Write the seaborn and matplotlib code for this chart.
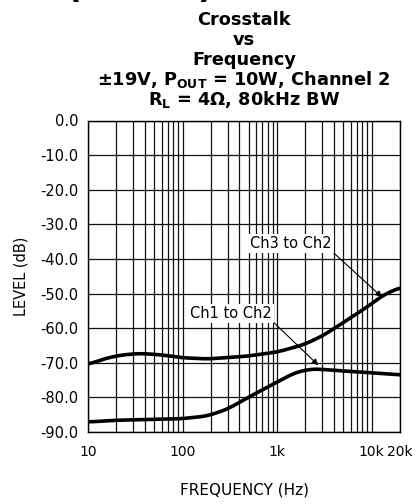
import numpy as np
import matplotlib
matplotlib.use("Agg")
import matplotlib.pyplot as plt
import seaborn as sns
import pandas as pd
from matplotlib.ticker import FixedLocator, LogLocator, NullFormatter

# values
freq_ch3 = [10, 15, 22, 35, 60, 94, 180, 300, 475, 1000, 1900, 3000, 4640, 7000, 10000, 12400, 20000]
level_ch3 = [-70.5, -68.8, -67.8, -67.3, -67.7, -68.5, -68.9, -68.5, -68.1, -66.9, -64.8, -62.3, -59.0, -55.8, -53.0, -50.9, -48.2]

freq_ch1 = [10, 20, 42, 94, 180, 293, 475, 700, 1000, 1500, 2250, 3000, 4640, 10000, 20000]
level_ch1 = [-87.1, -86.6, -86.4, -86.2, -85.4, -83.5, -80.3, -77.8, -75.6, -73.0, -71.8, -71.9, -72.3, -72.9, -73.5]

y_ticks = [0, -10, -20, -30, -40, -50, -60, -70, -80, -90]
x_ticks = [10, 100, 1000, 10000, 20000]
x_labels = ["10", "100", "1k", "10k", "20k"]

df = pd.concat([
    pd.DataFrame({"freq": freq_ch3, "level": level_ch3, "path": "Ch3 to Ch2"}),
    pd.DataFrame({"freq": freq_ch1, "level": level_ch1, "path": "Ch1 to Ch2"}),
])

sns.set_style("white")
plt.rcParams["font.family"] = ["DejaVu Sans"]
plt.rcParams["text.color"] = "black"
plt.rcParams["axes.labelcolor"] = "black"
plt.rcParams["xtick.color"] = "black"
plt.rcParams["ytick.color"] = "black"

fig = plt.figure(figsize=(4.2, 5.04), dpi=100)
ax = fig.add_axes([88 / 420, 72 / 504, 312 / 420, 311.5 / 504])

# smooth the read points in log-frequency so the curves look like the scan
for name, g in df.groupby("path", sort=False):
    lf = np.log10(g["freq"].values)
    xs = np.linspace(lf.min(), lf.max(), 300)
    ys = np.interp(xs, lf, g["level"].values)
    k = np.ones(15) / 15
    ys_s = np.convolve(np.pad(ys, 7, mode="edge"), k, mode="valid")
    sns.lineplot(x=10 ** xs, y=ys_s, ax=ax, color="black", lw=2.6, legend=False, zorder=3)

ax.set_xscale("log")
ax.set_xlim(10, 20000)
ax.set_ylim(-90, 0)
ax.xaxis.set_major_locator(FixedLocator(x_ticks))
ax.set_xticklabels(x_labels)
ax.xaxis.set_minor_locator(LogLocator(base=10, subs=np.arange(2, 10)))
ax.xaxis.set_minor_formatter(NullFormatter())
ax.set_yticks(y_ticks)
ax.set_yticklabels([f"{v:.1f}" for v in y_ticks])
ax.grid(True, which="both", axis="x", color="#111111", lw=0.9)
ax.grid(True, which="major", axis="y", color="#111111", lw=0.9)
ax.tick_params(axis="y", which="both", length=0, labelsize=10.5, pad=7)
ax.tick_params(axis="x", which="both", length=0, labelsize=10, pad=9)
for s in ax.spines.values():
    s.set_color("black")
    s.set_linewidth(1.0)

ax.set_xlabel("FREQUENCY (Hz)", fontsize=11, va="center")
ax.xaxis.set_label_coords(0.5, (432 - 490) / 311.5)
ax.set_ylabel("LEVEL (dB)", fontsize=10.5, va="center")
ax.yaxis.set_label_coords((21 - 88) / 312, 0.5)

box = dict(boxstyle="square,pad=0.15", fc="white", ec="none")
ax.annotate("Ch3 to Ch2", xy=(12870, -51.0), xytext=(1405, -35.6), fontsize=10.5,
            ha="center", va="center", bbox=box, zorder=4,
            arrowprops=dict(arrowstyle="-|>", color="black", lw=0.8, shrinkA=0, shrinkB=0,
                            mutation_scale=9, relpos=(1, 0)))
ax.annotate("Ch1 to Ch2", xy=(2730, -70.7), xytext=(327, -55.7), fontsize=10.5,
            ha="center", va="center", bbox=box, zorder=4,
            arrowprops=dict(arrowstyle="-|>", color="black", lw=0.8, shrinkA=0, shrinkB=0,
                            mutation_scale=9, relpos=(1, 0)))

cx = (88 + 400) / 2 / 420
title_lines = ["Crosstalk", "vs", "Frequency",
               r"±19V, $\mathbf{P_{OUT}}$ = 10W, Channel 2",
               r"$\mathbf{R_{L}}$ = 4Ω, 80kHz BW"]
baselines = [25, 45, 65, 85, 105]
for t, b in zip(title_lines, baselines):
    fig.text(cx, 1 - b / 504, t, ha="center", va="baseline", fontsize=12.8, fontweight="bold")

# page header, mostly cut off above the chart as in the scan
fig.text(213 / 420, 1 + 2 / 504, "Typical Performance Characteristics (cont'd)", ha="right",
         va="baseline", fontsize=24, fontweight="bold")

fig.savefig("out.png", dpi=100)
